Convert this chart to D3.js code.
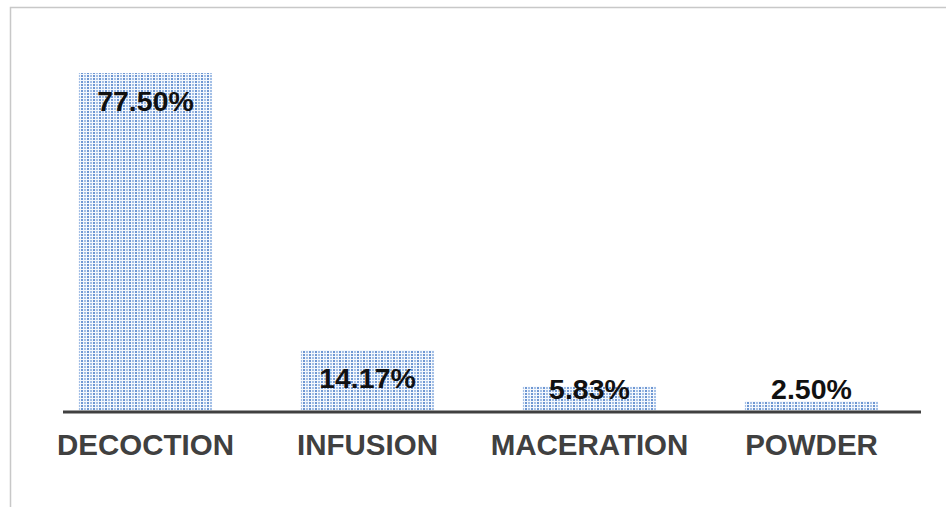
<!DOCTYPE html>
<html><head><meta charset="utf-8">
<script src="https://cdn.jsdelivr.net/npm/d3@7"></script>
<style>body{margin:0;background:#fff}svg{display:block}</style>
</head><body>
<svg id="chart" width="946" height="507"></svg>
<script>
const categories = ["DECOCTION", "INFUSION", "MACERATION", "POWDER"];
const values = [77.50, 14.17, 5.83, 2.50];
const valueLabels = ["77.50%", "14.17%", "5.83%", "2.50%"];

const svg = d3.select("#chart");
const W = 946, H = 507;
const font = "'Liberation Sans', Arial, sans-serif";

const defs = svg.append("defs");
const pat = defs.append("pattern").attr("id", "dots").attr("patternUnits", "userSpaceOnUse")
  .attr("width", 6).attr("height", 3);
pat.append("rect").attr("width", 6).attr("height", 3).attr("fill", "#f4f8fd");
pat.append("rect").attr("x", 0).attr("y", 0).attr("width", 2).attr("height", 2).attr("fill", "#a3bfe6");
pat.append("rect").attr("x", 3).attr("y", 0).attr("width", 2).attr("height", 2).attr("fill", "#6f97d2");

// border
svg.append("path").attr("d", `M10.5,${H} V7.5 H${W}`).attr("fill", "none")
  .attr("stroke", "#c8c8c8").attr("stroke-width", 1.5);

const baseline = 412;
const x = d3.scaleBand().domain(categories).range([34.5, 922.5]).paddingInner(0.4).paddingOuter(0.2);
const y = d3.scaleLinear().domain([0, 77.5]).range([baseline, 73]);

svg.selectAll("rect.bar").data(values).join("rect").attr("class", "bar")
  .attr("x", (d, i) => x(categories[i]))
  .attr("width", x.bandwidth())
  .attr("y", d => y(d))
  .attr("height", d => baseline - y(d))
  .attr("fill", "url(#dots)");

// baseline axis
const axis = d3.axisBottom(x).tickSize(0).tickPadding(22);
const g = svg.append("g").attr("transform", `translate(0,${baseline})`).call(axis);
g.select(".domain").remove();
g.append("line").attr("x1", 63).attr("x2", 921).attr("y1", 0).attr("y2", 0)
  .attr("stroke", "#404040").attr("stroke-width", 3);
g.selectAll(".tick text").attr("font-family", font).attr("font-weight", "bold")
  .attr("font-size", 29.5).attr("fill", "#404040");

svg.selectAll("text.val").data(values).join("text").attr("class", "val")
  .attr("x", (d, i) => x(categories[i]) + x.bandwidth() / 2)
  .attr("y", d => Math.min(y(d) + 28, 389))
  .attr("dy", "0.35em")
  .attr("text-anchor", "middle")
  .attr("font-family", font).attr("font-weight", "bold").attr("font-size", 28.5)
  .attr("fill", "#111")
  .text((d, i) => valueLabels[i]);
</script>
</body></html>
